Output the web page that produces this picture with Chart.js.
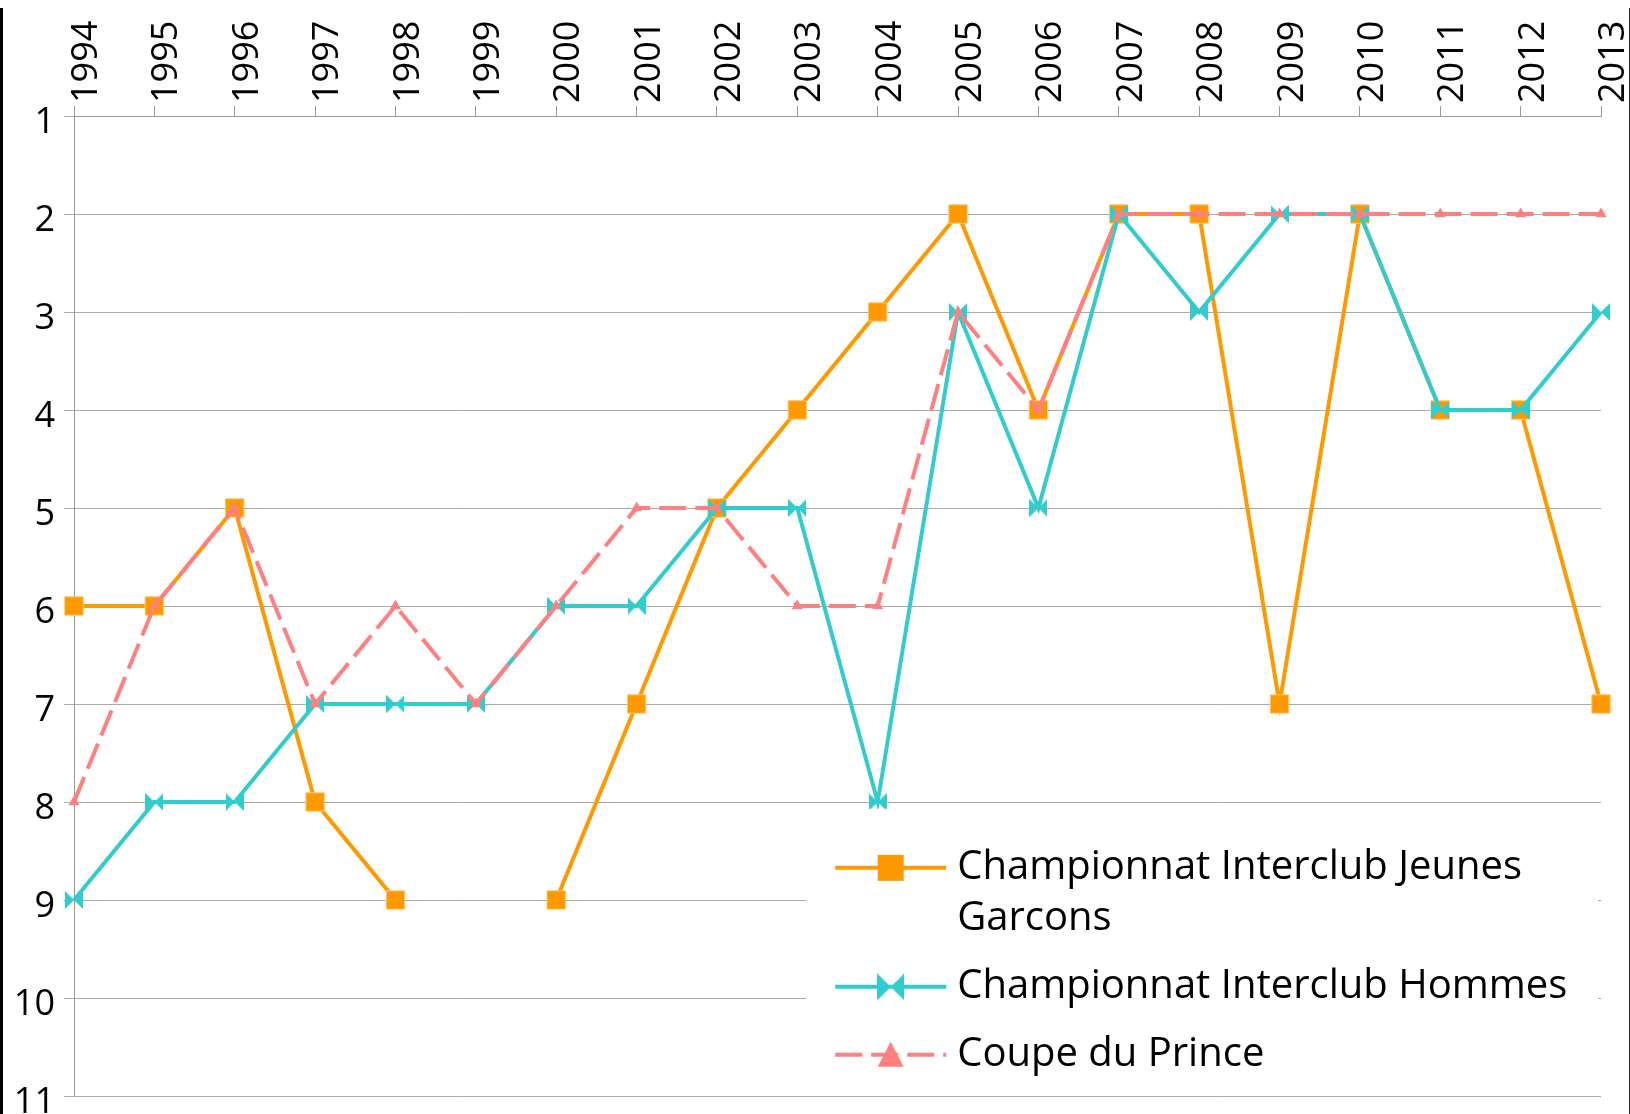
<!DOCTYPE html>
<html>
<head>
<meta charset="utf-8">
<script src="https://cdn.jsdelivr.net/npm/chart.js@4/dist/chart.umd.min.js"></script>
<style>
html,body{margin:0;padding:0;background:#fff;}
#wrap{position:relative;width:1630px;height:1114px;}
canvas{display:block;}
</style>
</head>
<body>
<div id="wrap"><canvas id="c" width="1630" height="1114"></canvas></div>
<script>
// ---- data ----
const years = ['1994','1995','1996','1997','1998','1999','2000','2001','2002','2003','2004','2005','2006','2007','2008','2009','2010','2011','2012','2013'];
const jeunesGarcons = [6,6,5,8,9,null,9,7,5,4,3,2,4,2,2,7,2,4,4,7];
const hommes = [9,8,8,7,7,7,6,6,5,5,8,3,5,2,3,2,2,4,4,3];
const coupePrince = [8,6,5,7,6,7,6,5,5,6,6,3,4,2,2,2,2,2,2,2];
const seriesLabels = ['Championnat Interclub Jeunes Garcons','Championnat Interclub Hommes','Coupe du Prince'];
const rankMin = 1, rankMax = 11;

const ORANGE = '#FF9900', TEAL = '#33CCCC', PINK = '#FF8080';
const FONT = "'Open Sans', 'DejaVu Sans', sans-serif";

function bowtie(size, color) {
  const c = document.createElement('canvas');
  c.width = size; c.height = size;
  const g = c.getContext('2d');
  g.fillStyle = color;
  g.beginPath();
  g.moveTo(0, 0); g.lineTo(size/2, size/2); g.lineTo(0, size); g.closePath();
  g.moveTo(size, 0); g.lineTo(size/2, size/2); g.lineTo(size, size); g.closePath();
  g.fill();
  return c;
}
const bowSmall = bowtie(18, TEAL);
const bowBig = bowtie(27, TEAL);

const frame = {
  id: 'frame',
  beforeDraw(chart) {
    const ctx = chart.ctx;
    ctx.save();
    ctx.fillStyle = '#fff';
    ctx.fillRect(0, 0, chart.width, chart.height);
    ctx.fillStyle = '#000';
    ctx.fillRect(0, 8, 3, chart.height - 8);
    ctx.fillStyle = '#333';
    ctx.fillRect(chart.width - 1, 8, 1, chart.height - 8);
    ctx.restore();
  }
};

const boxLegend = {
  id: 'boxLegend',
  afterDatasetsDraw(chart) {
    const ctx = chart.ctx;
    const a = chart.chartArea;
    const bx = a.left + (a.right - a.left) * 0.4795;
    const by = a.top + (a.bottom - a.top) * 0.707;
    const bw = a.right - 3 - bx;
    const bh = a.bottom - 6 - by;
    ctx.save();
    ctx.fillStyle = '#fff';
    ctx.fillRect(bx, by, bw, bh);
    const sx0 = bx + 29, sx1 = bx + 140, mx = (sx0 + sx1) / 2, tx = bx + 151;
    const lineH = 51, itemGap = 68;
    ctx.font = "40px " + FONT;
    ctx.textBaseline = 'middle';
    ctx.textAlign = 'left';
    let y = by + 59;
    const maxW = bx + bw - tx - 10;
    chart.data.datasets.forEach((ds, i) => {
      ctx.save();
      ctx.strokeStyle = ds.borderColor;
      ctx.lineWidth = ds.borderWidth;
      ctx.setLineDash(ds.borderDash || []);
      ctx.beginPath();
      ctx.moveTo(sx0, y); ctx.lineTo(sx1, y);
      ctx.stroke();
      ctx.restore();
      ctx.save();
      if (i === 0) {
        ctx.fillStyle = ORANGE;
        ctx.fillRect(mx - 13, y - 13, 26, 26);
      } else if (i === 1) {
        ctx.drawImage(bowBig, mx - 13.5, y - 13.5);
      } else {
        ctx.fillStyle = PINK;
        ctx.beginPath();
        ctx.moveTo(mx, y - 13); ctx.lineTo(mx + 13, y + 12); ctx.lineTo(mx - 13, y + 12); ctx.closePath();
        ctx.fill();
      }
      ctx.restore();
      const words = ds.label.split(' ');
      const lines = [];
      let cur = '';
      words.forEach(w => {
        const test = cur ? cur + ' ' + w : w;
        if (ctx.measureText(test).width > maxW && cur) { lines.push(cur); cur = w; }
        else cur = test;
      });
      if (cur) lines.push(cur);
      ctx.fillStyle = '#000';
      lines.forEach((ln, k) => ctx.fillText(ln, tx, y + k * lineH));
      y += (lines.length - 1) * lineH + itemGap;
    });
    ctx.restore();
  }
};

new Chart(document.getElementById('c'), {
  type: 'line',
  data: {
    labels: years,
    datasets: [
      {
        label: seriesLabels[0], data: jeunesGarcons, order: 3,
        borderColor: ORANGE, backgroundColor: ORANGE, borderWidth: 4,
        pointStyle: 'rect', pointRadius: 13, pointBackgroundColor: ORANGE,
        pointBorderColor: '#FFC870', pointBorderWidth: 1, spanGaps: false, tension: 0
      },
      {
        label: seriesLabels[1], data: hommes, order: 2,
        borderColor: TEAL, backgroundColor: TEAL, borderWidth: 4,
        pointStyle: bowSmall, pointRadius: 9, pointBorderWidth: 0, tension: 0
      },
      {
        label: seriesLabels[2], data: coupePrince, order: 1,
        borderColor: PINK, backgroundColor: PINK, borderWidth: 4, borderDash: [27, 9],
        pointStyle: 'triangle', pointRadius: 6.5, pointBackgroundColor: PINK,
        pointBorderWidth: 0, tension: 0
      }
    ]
  },
  options: {
    responsive: false,
    animation: false,
    devicePixelRatio: 1,
    events: [],
    layout: { padding: { left: 0, top: 0, right: 29, bottom: 18 } },
    plugins: { legend: { display: false }, tooltip: { enabled: false } },
    scales: {
      x: {
        position: 'top',
        offset: false,
        afterFit(s) { s.height = 116; },
        grid: { drawOnChartArea: false, drawTicks: true, tickLength: 10, color: '#999', lineWidth: 1 },
        border: { display: true, color: '#999', width: 1 },
        ticks: {
          minRotation: 90, maxRotation: 90, autoSkip: false, padding: 3, labelOffset: 56,
          color: '#000', font: { family: FONT, size: 36, lineHeight: 1.2 }
        }
      },
      y: {
        reverse: true,
        min: rankMin, max: rankMax,
        afterFit(s) { s.width = 74; s.paddingTop = 0; s.paddingBottom = 0; },
        grid: { drawOnChartArea: true, drawTicks: true, tickLength: 10, color: '#aaa', lineWidth: 1 },
        border: { display: true, color: '#999', width: 1 },
        ticks: {
          stepSize: 1, padding: 9, color: '#000', labelOffset: 7,
          font: { family: FONT, size: 36, lineHeight: 1 }
        }
      }
    }
  },
  plugins: [frame, boxLegend]
});
</script>
</body>
</html>
